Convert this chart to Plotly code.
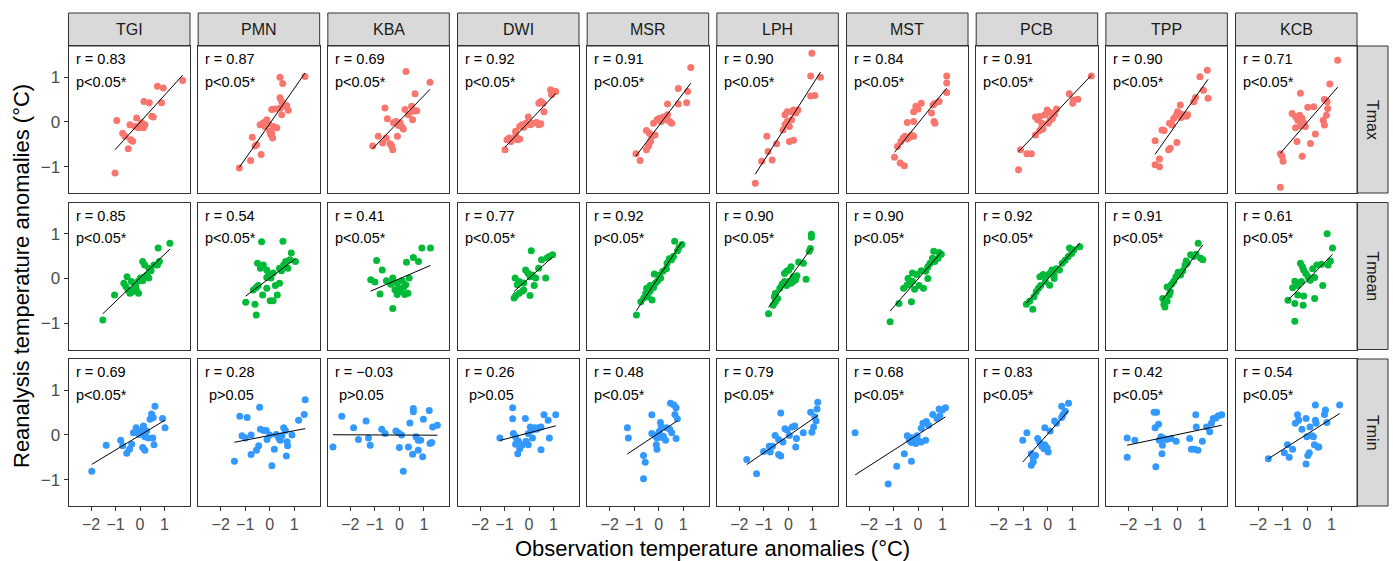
import numpy as np
import plotly.graph_objects as go

# ---------------- data ----------------
stations = ["TGI", "PMN", "KBA", "DWI", "MSR", "LPH", "MST", "PCB", "TPP", "KCB"]
variables = ["Tmax", "Tmean", "Tmin"]
var_colors = ["#F8766D", "#00BA38", "#3399FF"]

x_ticks = [-2, -1, 0, 1]
x_tick_labels = ["\u22122", "\u22121", "0", "1"]
y_ticks = [-1, 0, 1]
y_tick_labels = ["\u22121", "0", "1"]

r_tmax = ["0.83", "0.87", "0.69", "0.92", "0.91", "0.90", "0.84", "0.91", "0.90", "0.71"]
r_tmean = ["0.85", "0.54", "0.41", "0.77", "0.92", "0.90", "0.90", "0.92", "0.91", "0.61"]
r_tmin = ["0.69", "0.28", "\u22120.03", "0.26", "0.48", "0.79", "0.68", "0.83", "0.42", "0.54"]
p_tmax = ["p<0.05*"] * 10
p_tmean = ["p<0.05*"] * 10
p_tmin = ["p<0.05*", "p>0.05", "p>0.05", "p>0.05", "p<0.05*", "p<0.05*", "p<0.05*", "p<0.05*", "p<0.05*", "p<0.05*"]

# (observation anomaly, reanalysis anomaly) per station
tmax_points = [
    [(-1.02,-1.14),(-0.95,0.03),(-0.71,-0.25),(-0.61,-0.32),(-0.48,-0.60),(-0.38,-0.40),(-0.30,-0.43),(-0.41,-0.06),(-0.20,-0.10),(-0.14,0.09),(-0.07,-0.13),(0.0,-0.08),(0.07,-0.02),(0.14,-0.13),(0.20,-0.06),(0.16,0.46),(0.38,0.43),(0.48,0.13),(0.54,0.11),(0.71,0.80),(0.95,0.76),(0.88,0.43),(1.74,0.93)],
    [(-1.24,-1.03),(-0.78,-0.86),(-0.35,-0.73),(-0.71,-0.34),(-0.60,-0.54),(-0.53,-0.51),(-0.39,-0.06),(-0.26,-0.02),(-0.19,-0.10),(-0.12,0.05),(-0.05,-0.04),(0.0,-0.21),(0.04,-0.28),(0.08,-0.25),(0.12,-0.36),(0.15,-0.10),(0.29,-0.13),(0.08,0.28),(0.22,0.29),(0.42,0.31),(0.49,0.16),(0.56,0.35),(0.69,0.37),(0.76,0.26),(0.42,0.54),(0.49,0.46),(0.42,1.00),(0.53,0.86),(1.44,1.02)],
    [(-1.09,-0.54),(-0.86,-0.32),(-0.68,-0.47),(-0.54,-0.36),(-0.38,-0.49),(-0.27,-0.62),(-0.31,-0.54),(-0.59,0.31),(-0.49,0.07),(-0.24,-0.02),(-0.14,0.01),(-0.04,-0.08),(0.03,-0.02),(0.10,-0.11),(-0.08,-0.32),(0.16,-0.16),(0.23,0.28),(0.37,0.16),(0.50,0.35),(0.57,0.24),(0.71,0.25),(0.54,0.05),(0.64,0.63),(0.27,1.13),(1.25,0.89)],
    [(-0.98,-0.62),(-0.90,-0.40),(-0.81,-0.36),(-0.73,-0.44),(-0.55,-0.32),(-0.47,-0.40),(-0.38,-0.38),(-0.55,-0.21),(-0.38,-0.10),(-0.29,-0.06),(-0.21,-0.12),(-0.12,-0.03),(-0.03,0.11),(0.05,-0.06),(0.14,-0.03),(0.31,-0.01),(0.40,-0.06),(0.48,-0.04),(0.40,0.42),(0.48,0.46),(0.57,0.42),(0.61,0.23),(0.88,0.72),(1.0,0.68),(1.09,0.68),(0.92,0.61)],
    [(-0.93,-0.71),(-0.76,-0.86),(-0.50,-0.62),(-0.41,-0.53),(-0.33,-0.44),(-0.50,-0.19),(-0.38,-0.25),(-0.28,-0.32),(-0.15,-0.29),(-0.21,-0.03),(-0.07,0.05),(0.02,0.08),(0.10,0.01),(0.19,0.11),(0.28,0.05),(0.36,0.16),(0.45,0.01),(0.53,-0.03),(0.36,0.40),(0.80,0.40),(1.14,0.43),(0.80,0.75),(1.18,0.68),(1.31,1.22)],
    [(-1.35,-1.37),(-1.09,-0.88),(-0.66,-0.85),(-0.88,-0.32),(-0.83,-0.66),(-0.48,-0.49),(-0.22,-0.18),(-0.14,-0.06),(-0.05,0.01),(0.04,-0.10),(0.13,0.05),(-0.05,0.23),(0.13,0.23),(0.21,0.27),(0.30,0.20),(0.39,0.27),(0.04,-0.44),(0.21,-0.41),(-0.14,0.16),(0.91,0.58),(1.08,0.59),(0.91,1.03),(1.31,1.00),(0.96,1.54)],
    [(-0.96,-0.79),(-0.73,-0.92),(-0.56,-0.98),(-0.84,-0.55),(-0.70,-0.44),(-0.61,-0.36),(-0.53,-0.32),(-0.44,-0.38),(-0.35,-0.34),(-0.27,-0.29),(-0.18,-0.32),(-0.44,-0.01),(-0.18,0.01),(-0.18,0.23),(-0.09,0.35),(0.0,0.29),(0.13,0.42),(0.55,0.20),(0.65,0.01),(0.69,-0.03),(0.61,0.38),(0.69,0.42),(0.86,0.46),(1.17,1.03),(1.17,0.87),(1.17,0.66)],
    [(-1.19,-1.07),(-1.11,-0.62),(-0.85,-0.71),(-0.67,-0.71),(-0.50,-0.29),(-0.33,-0.19),(-0.24,-0.12),(-0.19,-0.16),(-0.50,0.11),(-0.41,0.05),(-0.33,0.12),(-0.24,-0.03),(-0.12,0.16),(0.02,-0.03),(0.10,0.05),(0.19,0.08),(-0.02,0.27),(0.10,0.21),(0.28,0.18),(0.36,0.29),(0.88,0.63),(1.05,0.49),(1.23,0.51),(1.02,0.42),(1.78,1.03)],
    [(-0.91,-0.96),(-0.73,-1.00),(-0.73,-0.83),(-0.91,-0.42),(-0.63,-0.18),(-0.54,-0.19),(-0.36,-0.62),(-0.29,-0.59),(-0.02,-0.46),(-0.32,-0.03),(-0.22,-0.07),(-0.15,0.08),(-0.04,0.16),(0.01,0.23),(0.09,0.19),(0.15,0.10),(0.25,0.16),(0.36,0.13),(0.42,0.16),(0.12,0.38),(0.67,0.45),(0.74,0.55),(0.92,1.01),(1.06,0.71),(1.22,1.16),(1.25,0.53)],
    [(-1.09,-1.46),(-1.02,-0.77),(-0.98,-0.88),(-1.09,-0.71),(-0.41,-0.44),(-0.20,-0.77),(0.14,-0.48),(0.34,-0.27),(-0.61,0.19),(-0.47,0.12),(-0.38,0.04),(-0.30,0.15),(-0.20,0.08),(-0.14,-0.02),(-0.27,-0.09),(-0.07,-0.10),(-0.47,-0.13),(-0.27,0.64),(0.03,0.33),(0.27,0.34),(0.66,0.04),(0.71,-0.07),(0.79,0.15),(0.84,0.30),(0.82,0.45),(0.71,0.50),(0.93,0.85),(1.25,1.38)],
]

tmean_points = [
    [(-1.52,-0.93),(-1.04,-0.37),(-0.66,-0.11),(-0.58,-0.18),(-0.49,-0.26),(-0.41,-0.33),(-0.53,0.04),(-0.35,-0.07),(-0.32,-0.30),(-0.23,-0.22),(-0.15,-0.26),(-0.06,-0.33),(-0.18,-0.17),(-0.06,-0.05),(0.02,0.01),(0.11,-0.05),(0.19,0.04),(0.28,0.08),(0.36,0.01),(0.11,0.38),(0.19,0.30),(0.36,0.23),(0.45,0.17),(0.57,0.30),(0.71,0.30),(0.79,0.38),(0.74,0.68),(1.22,0.79)],
    [(-0.98,-0.53),(-0.60,-0.58),(-0.55,-0.82),(-0.67,-0.26),(-0.55,-0.20),(-0.47,-0.16),(-0.12,0.02),(-0.04,0.08),(-0.29,-0.37),(-0.12,-0.22),(0.02,-0.50),(0.14,-0.50),(0.31,-0.37),(0.23,-0.16),(0.40,-0.11),(-0.50,0.34),(-0.38,0.23),(-0.26,0.30),(-0.12,0.19),(0.05,0.01),(0.14,0.12),(0.40,0.23),(0.48,0.17),(0.57,0.30),(0.74,0.23),(0.65,0.38),(0.83,0.42),(0.88,0.57),(1.05,0.38),(-0.33,0.82),(0.54,0.83)],
    [(-1.17,-0.03),(-1.00,-0.08),(-0.93,0.40),(-0.79,-0.35),(-0.70,0.19),(-0.53,-0.05),(-0.35,-0.13),(-0.27,0.01),(-0.09,-0.10),(-0.18,-0.25),(0.00,-0.22),(0.12,-0.05),(-0.09,-0.36),(0.05,-0.29),(0.17,-0.20),(0.26,-0.14),(0.35,-0.33),(0.40,0.01),(0.22,-0.36),(-0.27,-0.67),(0.29,0.36),(0.57,0.47),(0.78,0.38),(0.92,0.68),(1.27,0.68)],
    [(-0.61,-0.44),(-0.54,-0.38),(-0.40,-0.33),(-0.26,-0.28),(-0.57,0.01),(-0.48,-0.14),(-0.40,-0.07),(-0.22,-0.10),(-0.14,0.19),(-0.05,0.12),(0.04,0.04),(0.13,0.08),(-0.22,-0.26),(0.04,-0.38),(0.21,-0.16),(0.27,0.01),(0.09,0.62),(0.39,0.23),(0.51,0.42),(0.73,0.46),(0.82,0.49),(0.96,0.53),(0.68,0.01)],
    [(-0.91,-0.82),(-0.73,-0.52),(-0.61,-0.44),(-0.53,-0.33),(-0.44,-0.41),(-0.35,-0.28),(-0.27,-0.48),(-0.49,-0.22),(-0.35,-0.16),(-0.21,-0.20),(-0.14,-0.11),(-0.04,-0.05),(0.08,0.01),(-0.18,0.10),(0.00,0.07),(0.17,0.16),(0.31,0.22),(0.34,0.34),(0.43,0.44),(0.52,0.42),(0.60,0.49),(0.77,0.62),(0.83,0.70),(0.65,0.83),(0.95,0.76)],
    [(-0.81,-0.79),(-0.62,-0.60),(-0.53,-0.52),(-0.57,-0.41),(-0.44,-0.45),(-0.53,-0.33),(-0.35,-0.22),(-0.26,-0.13),(-0.16,-0.07),(-0.07,-0.16),(0.02,-0.07),(0.11,-0.11),(0.20,-0.07),(0.29,-0.03),(-0.16,0.11),(-0.07,0.16),(0.02,0.19),(0.11,0.26),(0.20,0.04),(0.35,0.06),(0.42,0.37),(0.61,0.34),(0.72,-0.02),(0.85,0.61),(0.90,0.67),(0.94,0.99),(0.94,0.92)],
    [(-1.14,-0.97),(-0.78,-0.56),(-0.27,-0.52),(-0.59,-0.22),(-0.45,-0.15),(-0.32,-0.11),(-0.23,-0.06),(-0.41,0.00),(-0.23,0.12),(-0.05,0.09),(0.13,0.17),(0.31,0.16),(0.40,0.00),(-0.14,-0.24),(0.04,-0.16),(0.22,-0.22),(0.40,0.26),(0.49,0.34),(0.59,0.45),(0.68,0.38),(0.64,0.61),(0.86,0.58),(0.95,0.54),(0.82,0.45)],
    [(-0.87,-0.58),(-0.74,-0.51),(-0.61,-0.69),(-0.56,-0.41),(-0.47,-0.30),(-0.38,-0.22),(-0.29,-0.16),(-0.32,0.04),(-0.19,0.09),(-0.07,0.06),(0.08,0.11),(0.17,0.19),(0.26,0.00),(0.35,0.22),(0.48,0.19),(0.59,0.34),(0.71,0.41),(0.84,0.49),(0.89,0.68),(0.98,0.56),(1.07,0.64),(1.31,0.71),(0.08,-0.15),(-0.10,-0.07),(0.26,0.08)],
    [(-0.60,-0.45),(-0.55,-0.58),(-0.51,-0.64),(-0.42,-0.51),(-0.33,-0.37),(-0.29,-0.30),(-0.42,-0.19),(-0.24,-0.13),(-0.15,-0.06),(-0.06,0.04),(0.03,0.14),(0.13,0.08),(0.22,0.17),(0.31,0.30),(0.40,0.34),(0.36,0.39),(0.54,0.53),(0.67,0.49),(0.76,0.54),(0.85,0.79),(0.95,0.45),(1.04,0.42)],
    [(-0.50,-0.96),(-0.78,-0.49),(-0.50,-0.56),(-0.16,-0.60),(0.31,-0.45),(-0.38,-0.37),(-0.14,-0.39),(0.64,-0.16),(-0.59,-0.21),(-0.50,-0.06),(-0.38,-0.16),(-0.23,-0.07),(-0.27,0.34),(-0.19,0.26),(-0.14,0.19),(-0.05,0.11),(0.04,0.04),(0.13,-0.04),(0.31,0.02),(0.23,0.22),(0.40,0.30),(0.59,0.32),(0.86,0.30),(0.95,0.39),(1.04,0.68),(0.82,1.00)],
]

tmin_points = [
    [(-1.97,-0.81),(-1.38,-0.23),(-0.79,-0.12),(-0.71,-0.24),(-0.54,-0.41),(-0.43,-0.32),(-0.34,-0.21),(-0.27,0.05),(-0.16,0.16),(-0.11,0.10),(-0.03,0.01),(0.07,0.10),(0.14,0.20),(0.20,-0.04),(0.27,0.09),(0.34,-0.07),(0.11,-0.28),(0.20,-0.34),(0.41,0.35),(0.47,0.47),(0.54,0.39),(0.61,0.64),(0.57,-0.22),(0.52,-0.07),(0.92,0.37),(1.02,0.16)],
    [(-1.44,-0.59),(-1.22,0.42),(-1.13,-0.02),(-0.99,-0.07),(-0.92,0.39),(-0.76,0.00),(-0.76,-0.44),(-0.54,-0.34),(-0.45,-0.24),(-0.41,0.62),(-0.38,0.13),(-0.24,0.10),(-0.14,0.10),(-0.11,-0.10),(0.00,0.00),(0.09,-0.69),(0.19,-0.32),(0.27,0.01),(0.37,-0.07),(0.43,-0.12),(0.50,-0.02),(0.57,0.16),(0.64,0.10),(0.71,-0.15),(0.73,-0.24),(0.68,-0.47),(0.91,0.00),(1.18,0.33),(1.41,0.46),(1.45,0.79)],
    [(-2.71,-0.27),(-2.35,0.42),(-1.87,0.16),(-1.67,-0.10),(-1.36,0.31),(-1.26,-0.07),(-1.19,-0.23),(-0.72,0.13),(-0.58,0.03),(-0.14,0.09),(-0.04,0.05),(0.09,0.00),(0.00,-0.28),(0.16,-0.81),(0.37,-0.27),(0.43,0.27),(0.57,0.59),(0.57,0.52),(0.68,-0.04),(0.77,-0.12),(0.87,-0.12),(0.54,-0.43),(0.77,-0.34),(0.95,-0.49),(0.98,0.35),(1.22,0.55),(1.25,-0.19),(1.32,-0.17),(1.36,0.18),(1.55,0.22)],
    [(-1.19,-0.07),(-0.67,0.61),(-0.67,0.36),(-0.64,0.03),(-0.55,-0.04),(-0.50,-0.17),(-0.46,-0.42),(-0.38,-0.31),(-0.29,-0.23),(-0.55,-0.21),(-0.43,-0.14),(-0.15,0.37),(-0.03,0.03),(0.05,0.18),(0.14,0.11),(0.23,0.16),(0.31,0.13),(0.40,0.16),(0.49,0.18),(-0.12,-0.14),(-0.03,-0.22),(0.14,-0.07),(0.49,-0.33),(0.61,0.45),(0.78,0.33),(0.83,-0.07),(1.09,0.45)],
    [(-1.28,0.16),(-1.24,-0.07),(-0.62,-0.46),(-0.55,-0.61),(-0.62,-0.98),(-0.28,0.45),(-0.28,0.03),(-0.15,-0.01),(-0.07,-0.07),(0.02,0.08),(0.11,-0.05),(0.19,-0.03),(0.28,-0.12),(-0.10,-0.22),(-0.07,-0.32),(0.07,0.28),(0.11,0.18),(0.31,0.16),(0.45,0.13),(0.53,0.05),(0.48,0.71),(0.62,0.67),(0.71,0.61),(0.66,0.46),(0.76,0.36),(0.71,-0.08)],
    [(-1.70,-0.55),(-1.30,-0.87),(-1.01,-0.37),(-0.74,-0.38),(-0.65,-0.25),(-0.40,-0.44),(-0.31,-0.47),(-0.78,-0.25),(-0.54,-0.01),(-0.40,-0.10),(-0.22,-0.16),(-0.31,0.49),(-0.14,0.14),(-0.05,0.11),(0.04,-0.01),(0.16,0.18),(0.26,0.20),(0.33,-0.08),(0.30,-0.27),(0.61,0.05),(0.91,0.51),(0.96,0.06),(1.03,0.18),(1.13,0.31),(1.08,0.41),(1.17,0.58),(1.20,0.73)],
    [(-2.57,0.05),(-1.22,-1.10),(-0.87,-0.70),(-0.56,-0.42),(-0.27,-0.59),(-0.44,-0.02),(-0.35,-0.12),(-0.27,-0.17),(-0.18,-0.08),(-0.09,-0.19),(-0.01,-0.12),(0.13,-0.16),(-0.27,-0.06),(-0.04,-0.02),(0.31,-0.12),(0.13,0.15),(0.20,0.26),(0.34,0.30),(0.43,0.22),(0.60,0.46),(0.77,0.37),(0.89,0.43),(0.86,0.58),(0.99,0.56),(1.12,0.61)],
    [(-1.02,-0.12),(-0.85,0.05),(-0.67,-0.42),(-0.59,-0.50),(-0.50,-0.46),(-0.67,-0.68),(-0.59,-0.60),(-0.41,-0.08),(-0.33,-0.17),(-0.24,-0.25),(-0.15,-0.31),(-0.12,-0.22),(-0.02,-0.29),(0.02,-0.38),(-0.12,0.16),(0.10,0.09),(0.28,0.31),(0.36,0.26),(0.57,0.39),(0.62,0.45),(0.57,0.64),(0.85,0.71),(0.71,0.53)],
    [(-2.05,-0.07),(-2.05,-0.50),(-1.74,-0.12),(-0.95,0.51),(-0.85,0.51),(-0.91,0.16),(-0.77,0.24),(-0.88,-0.71),(-0.74,-0.12),(-0.67,-0.04),(-0.61,-0.23),(-0.54,-0.08),(-0.44,-0.10),(-0.26,-0.08),(-0.05,-0.14),(-0.63,-0.42),(0.50,-0.08),(0.57,-0.32),(0.70,-0.32),(0.84,-0.34),(0.77,0.18),(0.75,0.45),(1.02,-0.14),(1.19,0.18),(1.32,0.07),(1.39,0.26),(1.46,0.37),(1.57,0.38),(1.67,0.43),(1.81,0.45)],
    [(-1.58,-0.53),(-0.93,-0.40),(-0.80,-0.22),(-0.73,-0.50),(-0.59,-0.32),(-0.48,0.26),(-0.39,0.45),(-0.34,0.33),(-0.21,0.13),(-0.04,0.37),(-0.01,-0.04),(0.03,-0.46),(0.09,-0.40),(-0.04,-0.65),(0.12,0.18),(0.20,-0.02),(0.26,-0.04),(0.30,-0.22),(0.34,0.33),(0.44,-0.27),(0.48,-0.27),(0.37,0.26),(0.34,0.67),(0.75,0.56),(0.71,0.46),(0.81,0.28),(1.33,0.67)],
]

# ---------------- layout geometry (pixels) ----------------
W, H = 1393, 561
PANEL_LEFT0, PANEL_STEP, PANEL_W = 68.5, 129.67, 121.5
ROW_TOP0, ROW_STEP, PANEL_H = 46.0, 156.5, 147.0
STRIP_TOP = 13.0
RSTRIP_W = 31.0
X_RANGE = [-2.92, 2.04]
Y_RANGE = [-1.59, 1.70]

FONT = "Liberation Sans, Arial, sans-serif"
BORDER = "#333333"
STRIP_FILL = "#D9D9D9"
TICK_SIZE = 16


def px(v):
    return v / W


def py(v):
    return 1 - v / H


all_points = [tmax_points, tmean_points, tmin_points]
all_r = [r_tmax, r_tmean, r_tmin]
all_p = [p_tmax, p_tmean, p_tmin]

fig = go.Figure()
layout = {}
shapes = []
annotations = []

for r in range(3):
    for c in range(10):
        k = r * 10 + c + 1
        xname = "x" if k == 1 else f"x{k}"
        yname = "y" if k == 1 else f"y{k}"
        xkey = "xaxis" if k == 1 else f"xaxis{k}"
        ykey = "yaxis" if k == 1 else f"yaxis{k}"
        left = PANEL_LEFT0 + c * PANEL_STEP
        top = ROW_TOP0 + r * ROW_STEP
        bottom_row = r == 2
        left_col = c == 0
        layout[xkey] = dict(
            domain=[px(left), px(left + PANEL_W)], range=X_RANGE, anchor=yname,
            showgrid=False, zeroline=False, showline=True, mirror=True,
            linecolor=BORDER, linewidth=1,
            tickvals=x_ticks, ticktext=x_tick_labels,
            ticks="outside" if bottom_row else "", ticklen=4, tickcolor=BORDER,
            showticklabels=bottom_row,
            tickfont=dict(family=FONT, size=TICK_SIZE, color="#4D4D4D"),
            fixedrange=True,
        )
        layout[ykey] = dict(
            domain=[py(top + PANEL_H), py(top)], range=Y_RANGE, anchor=xname,
            showgrid=False, zeroline=False, showline=True, mirror=True,
            linecolor=BORDER, linewidth=1,
            tickvals=y_ticks, ticktext=y_tick_labels,
            ticks="outside" if left_col else "", ticklen=4, tickcolor=BORDER,
            showticklabels=left_col,
            tickfont=dict(family=FONT, size=TICK_SIZE + 1, color="#4D4D4D"),
            fixedrange=True,
        )
        pts = all_points[r][c]
        xs = np.array([p[0] for p in pts])
        ys = np.array([p[1] for p in pts])
        fig.add_trace(go.Scatter(
            x=xs, y=ys, mode="markers", xaxis=xname, yaxis=yname,
            marker=dict(color=var_colors[r], size=7, line=dict(width=0)),
            showlegend=False, hoverinfo="skip",
        ))
        slope, intercept = np.polyfit(xs, ys, 1)
        lx = np.array([xs.min(), xs.max()])
        fig.add_trace(go.Scatter(
            x=lx, y=slope * lx + intercept, mode="lines", xaxis=xname, yaxis=yname,
            line=dict(color="black", width=1), showlegend=False, hoverinfo="skip",
        ))
        # r / p labels
        annotations.append(dict(
            x=px(left + 5), y=py(top + 13), xref="paper", yref="paper",
            text=f"r = {all_r[r][c]}", showarrow=False, xanchor="left", yanchor="middle",
            font=dict(family=FONT, size=14.5, color="black"),
        ))
        ptxt = all_p[r][c]
        off = 9 if ptxt.startswith("p>") else 5
        annotations.append(dict(
            x=px(left + off), y=py(top + 36), xref="paper", yref="paper",
            text=ptxt.replace("<", "&lt;").replace(">", "&gt;"), showarrow=False,
            xanchor="left", yanchor="middle",
            font=dict(family=FONT, size=14.5, color="black"),
        ))

# top strips
for c, name in enumerate(stations):
    left = PANEL_LEFT0 + c * PANEL_STEP
    shapes.append(dict(type="rect", xref="paper", yref="paper",
                       x0=px(left), x1=px(left + PANEL_W), y0=py(ROW_TOP0), y1=py(STRIP_TOP),
                       fillcolor=STRIP_FILL, line=dict(color=BORDER, width=1), layer="below"))
    annotations.append(dict(x=px(left + PANEL_W / 2), y=py((STRIP_TOP + ROW_TOP0) / 2),
                            xref="paper", yref="paper", text=name, showarrow=False,
                            xanchor="center", yanchor="middle",
                            font=dict(family=FONT, size=16, color="#1A1A1A")))

# right strips
rs_left = PANEL_LEFT0 + 9 * PANEL_STEP + PANEL_W
for r, name in enumerate(variables):
    top = ROW_TOP0 + r * ROW_STEP
    shapes.append(dict(type="rect", xref="paper", yref="paper",
                       x0=px(rs_left), x1=px(rs_left + RSTRIP_W), y0=py(top + PANEL_H), y1=py(top),
                       fillcolor=STRIP_FILL, line=dict(color=BORDER, width=1), layer="below"))
    annotations.append(dict(x=px(rs_left + RSTRIP_W / 2), y=py(top + PANEL_H / 2),
                            xref="paper", yref="paper", text=name, showarrow=False,
                            textangle=90, xanchor="center", yanchor="middle",
                            font=dict(family=FONT, size=16, color="#1A1A1A")))

# axis titles
plot_mid_x = (PANEL_LEFT0 + rs_left) / 2
annotations.append(dict(x=px(plot_mid_x), y=py(548), xref="paper", yref="paper",
                        text="Observation temperature anomalies (°C)", showarrow=False,
                        xanchor="center", yanchor="middle",
                        font=dict(family=FONT, size=22, color="black")))
annotations.append(dict(x=px(21), y=py(ROW_TOP0 + (2 * ROW_STEP + PANEL_H) / 2), xref="paper", yref="paper",
                        text="Reanalysis temperature anomalies (°C)", showarrow=False,
                        textangle=-90, xanchor="center", yanchor="middle",
                        font=dict(family=FONT, size=22, color="black")))

fig.update_layout(
    width=W, height=H, margin=dict(l=0, r=0, t=0, b=0),
    paper_bgcolor="white", plot_bgcolor="white",
    shapes=shapes, annotations=annotations, showlegend=False,
    **layout,
)

fig.write_html("out.html", config={"displayModeBar": False})
